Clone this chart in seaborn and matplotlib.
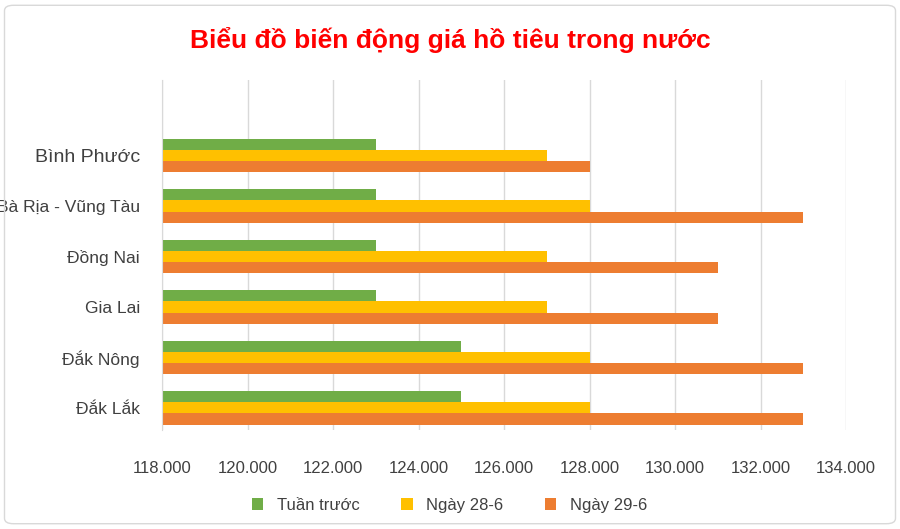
import matplotlib
matplotlib.use("Agg")
import matplotlib.pyplot as plt
import pandas as pd
import seaborn as sns
from matplotlib.ticker import FuncFormatter, MultipleLocator
from matplotlib.patches import FancyBboxPatch

provinces = ["Bình Phước", "Bà Rịa - Vũng Tàu", "Đồng Nai", "Gia Lai", "Đắk Nông", "Đắk Lắk"]
series = ["Tuần trước", "Ngày 28-6", "Ngày 29-6"]
tuan_truoc = [123000, 123000, 123000, 123000, 125000, 125000]
ngay_28 = [127000, 128000, 127000, 127000, 128000, 128000]
ngay_29 = [128000, 133000, 131000, 131000, 133000, 133000]

rows = []
for name, vals in zip(series, [tuan_truoc, ngay_28, ngay_29]):
    for p, v in zip(provinces, vals):
        rows.append({"province": p, "series": name, "value": v})
df = pd.DataFrame(rows)

colors = ["#70AD47", "#FFC000", "#ED7D31"]
plt.rcParams["font.family"] = "Liberation Sans"

fig = plt.figure(figsize=(9, 5.29), dpi=100)
fig.patches.append(FancyBboxPatch((0.005, 0.01), 0.99, 0.98, boxstyle="round,pad=0,rounding_size=0.01",
                                  transform=fig.transFigure, fill=False, edgecolor="#d9d9d9", linewidth=1))
ax = fig.add_axes([0.18, 0.187, 0.76, 0.662])
sns.barplot(data=df, y="province", x="value", hue="series", orient="h",
            palette=colors, saturation=1, width=0.66, ax=ax, legend=True)
# bars start at 118.000, so draw from the left edge
ax.set_xlim(118000, 134000)
ax.set_ylim(5.44, -1.5)
ax.xaxis.set_major_locator(MultipleLocator(2000))
ax.xaxis.set_major_formatter(FuncFormatter(lambda v, _: f"{v/1000:.3f}"))
ax.grid(axis="x", color="#d9d9d9", linewidth=1)
ax.set_axisbelow(True)
for s in ["top", "right", "bottom"]:
    ax.spines[s].set_visible(False)
ax.spines["left"].set_color("#d9d9d9")
ax.tick_params(axis="both", length=0, labelsize=12, colors="#404040")
ax.tick_params(axis="x", pad=22)
ax.tick_params(axis="y", labelsize=12.5, pad=16)
ax.set_xlabel("")
ax.set_ylabel("")
for lbl in ax.get_yticklabels():
    if lbl.get_text() == "Bình Phước":
        lbl.set_fontsize(14)

ax.legend(loc="upper center", bbox_to_anchor=(0.42, -0.15), ncol=3, frameon=False,
          fontsize=12, handlelength=0.7, handleheight=0.7, columnspacing=2.5,
          labelcolor="#404040")
fig.text(0.5, 0.925, "Biểu đồ biến động giá hồ tiêu trong nước", ha="center", va="center",
         color="#FF0000", fontsize=19, fontweight="bold")
fig.savefig("out.png", dpi=100)
